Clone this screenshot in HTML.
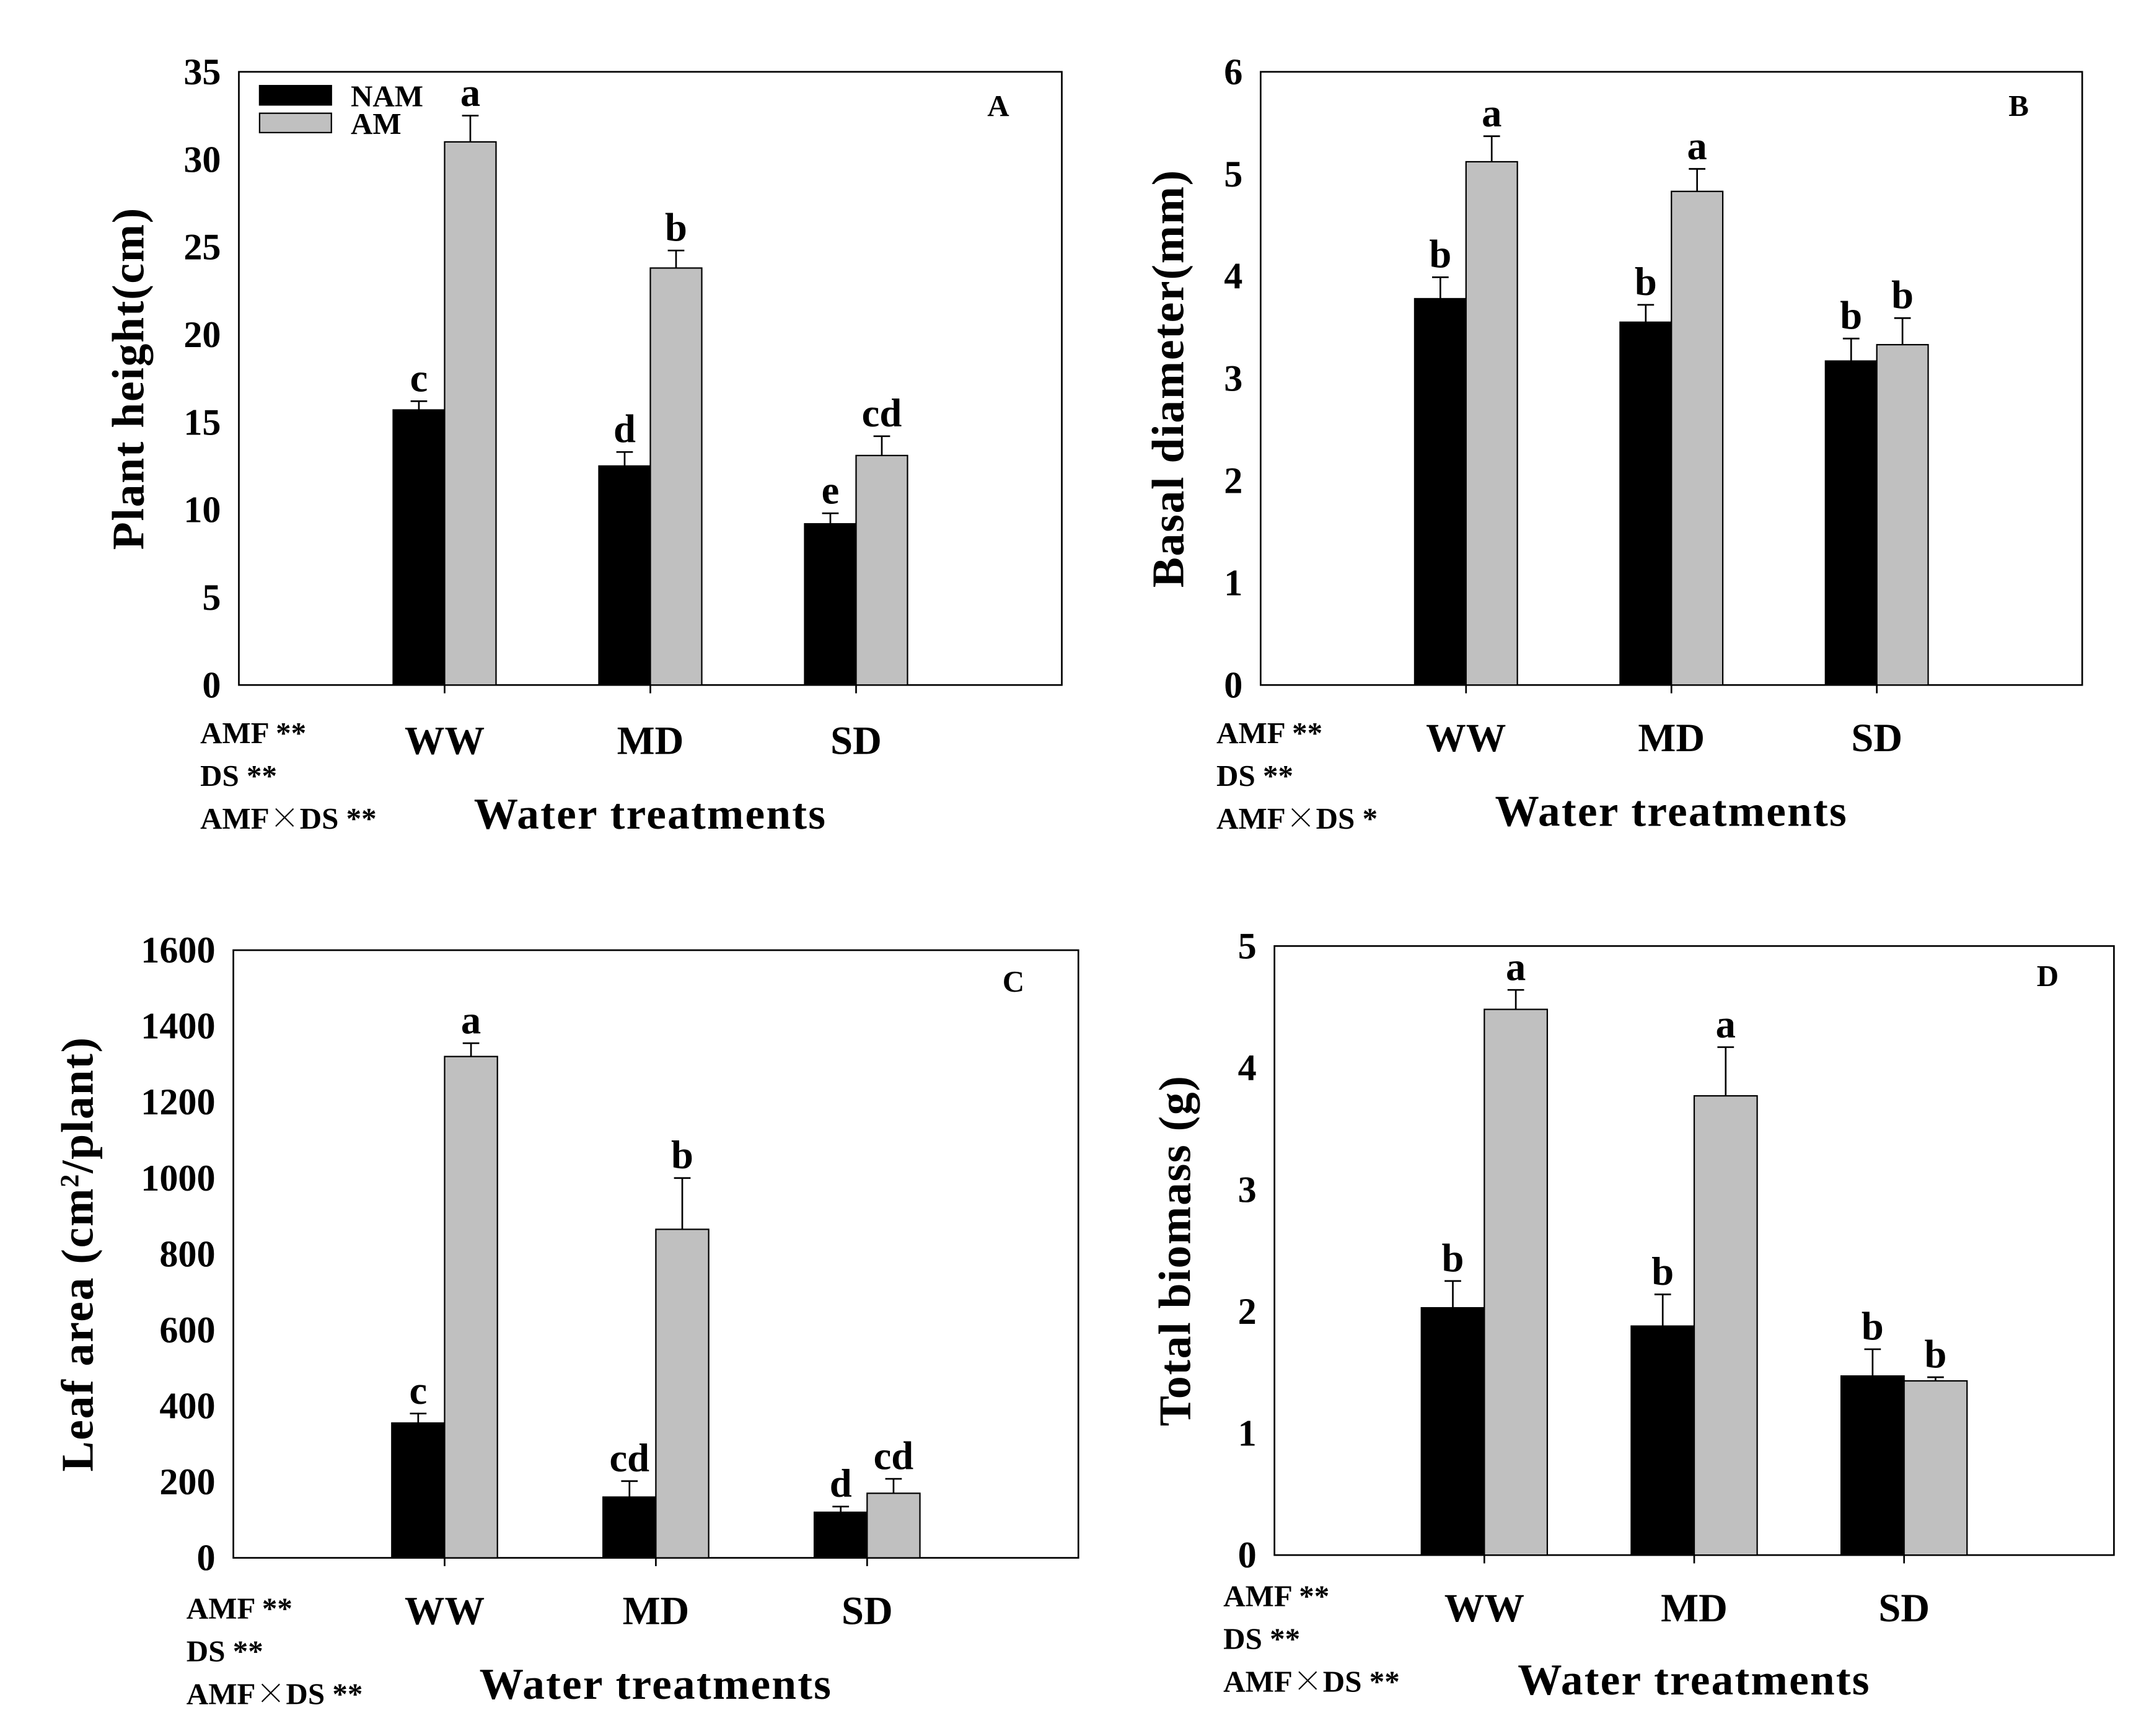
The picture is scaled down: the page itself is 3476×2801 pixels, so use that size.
<!DOCTYPE html>
<html><head><meta charset="utf-8"><style>
html,body{margin:0;padding:0;background:#fff;}
svg{display:block;}
text{font-family:"Liberation Serif","Noto Serif CJK SC",serif;font-weight:bold;fill:#000;}
</style></head><body>
<svg id="fig" xmlns="http://www.w3.org/2000/svg" width="3476" height="2801" viewBox="0 0 1560 1257" preserveAspectRatio="none"></svg>
<script>
const categories = ["WW","MD","SD"];
const aNam = [15.7, 12.5, 9.2];
const aNamErr = [0.5, 0.8, 0.6];
const aAm = [31.0, 23.8, 13.1];
const aAmErr = [1.5, 1.0, 1.1];
const aNamLetters = ["c","d","e"];
const aAmLetters = ["a","b","cd"];
const aTicks = [0,5,10,15,20,25,30,35];

const bNam = [3.78, 3.55, 3.17];
const bNamErr = [0.21, 0.17, 0.22];
const bAm = [5.12, 4.83, 3.33];
const bAmErr = [0.25, 0.22, 0.26];
const bNamLetters = ["b","b","b"];
const bAmLetters = ["a","a","b"];
const bTicks = [0,1,2,3,4,5,6];

const cNam = [355, 160, 120];
const cNamErr = [25, 42, 15];
const cAm = [1320, 865, 170];
const cAmErr = [35, 135, 38];
const cNamLetters = ["c","cd","d"];
const cAmLetters = ["a","b","cd"];
const cTicks = [0,200,400,600,800,1000,1200,1400,1600];

const dNam = [2.03, 1.88, 1.47];
const dNamErr = [0.22, 0.26, 0.22];
const dAm = [4.48, 3.77, 1.43];
const dAmErr = [0.16, 0.40, 0.03];
const dNamLetters = ["b","b","b"];
const dAmLetters = ["a","a","b"];
const dTicks = [0,1,2,3,4,5];

const NS = "http://www.w3.org/2000/svg";
const svg = document.getElementById("fig");
function mk(tag, attrs, parent, txt){
  const e = document.createElementNS(NS, tag);
  for (const k in attrs) e.setAttribute(k, attrs[k]);
  if (txt !== undefined) e.textContent = txt;
  (parent||svg).appendChild(e);
  return e;
}

function panel(p){
  const g = mk("g", {});
  
  
  const ymax = p.ticks[p.ticks.length-1];
  const xs = v => p.x0 + (p.x1 - p.x0) * v / 4;
  const ys = v => p.y1 - (p.y1 - p.y0) * v / ymax;
  const fr = mk("rect", {x:p.x0, y:p.y0, width:p.x1-p.x0, height:p.y1-p.y0, fill:"none", stroke:"#000", "stroke-width":1.2}, g);
  
  
  p.ticks.forEach(t => {
    const tl = mk("text", {x:p.x0-13, y:ys(t)+9, "text-anchor":"end", "font-size":27}, g, String(t));
    
    
  });
  const bw = p.bw;
  categories.forEach((c, i) => {
    const cx = xs(i+1);
    const tk = mk("line", {x1:cx, x2:cx, y1:p.y1, y2:p.y1+6, stroke:"#000", "stroke-width":1.2}, g);
    
    
    const cl = mk("text", {x:cx, y:p.catY, "text-anchor":"middle", "font-size":29}, g, c);
    
    
    const series = [
      {v:p.nam[i], e:p.namErr[i], l:p.namL[i], x:cx-bw*(p.x1-p.x0)/4, fill:"#000", n:"nam"},
      {v:p.am[i], e:p.amErr[i], l:p.amL[i], x:cx, fill:"#c0c0c0", n:"am"}
    ];
    series.forEach(s => {
      const w = bw*(p.x1-p.x0)/4;
      const r = mk("rect", {x:s.x, y:ys(s.v), width:w, height:p.y1-ys(s.v), fill:s.fill, stroke:"#000", "stroke-width":1}, g);
      
      
      const mx = s.x + w/2;
      const et = ys(s.v + s.e);
      const el = mk("path", {d:`M${mx},${ys(s.v)}V${et}M${mx-6},${et}H${mx+6}`, stroke:"#000", "stroke-width":1.2, fill:"none"}, g);
      
      
      const lt = mk("text", {x:mx, y:et-7, "text-anchor":"middle", "font-size":29}, g, s.l);
      
      
    });
  });
  const pl = mk("text", {x:p.lx, y:p.ly, "text-anchor":"middle", "font-size":22}, g, p.id);
  
  
  const yt = mk("text", {x:0, y:0, transform:`translate(${p.ytx},${(p.y0+p.y1)/2}) rotate(-90)`, "text-anchor":"middle", "font-size":33, "letter-spacing":"0.8"}, g);
  
  
  if (p.ytitleSup){
    yt.appendChild(document.createTextNode("Leaf area (cm"));
    mk("tspan", {"baseline-shift":"super", "font-size":19}, yt, "2");
    yt.appendChild(document.createTextNode("/plant)"));
  } else yt.textContent = p.ytitle;
  const a1 = mk("text", {x:p.ax, y:p.ay, "font-size":22}, g, "AMF **");
  
  
  const a2 = mk("text", {x:p.ax, y:p.ay + 31, "font-size":22}, g, "DS **");
  
  
  const a3 = mk("text", {x:p.ax, y:p.ay + 62, "font-size":22}, g);
  
  
  a3.appendChild(document.createTextNode("AMF"));
  mk("tspan", {"font-family":"Noto Serif CJK SC, serif", "font-weight":"normal"}, a3, "×");
  a3.appendChild(document.createTextNode("DS " + p.a3));
  const xt = mk("text", {x:xs(2), y:p.xtY, "text-anchor":"middle", "font-size":32, "letter-spacing":"1"}, g, "Water treatments");
  
  
  return g;
}

const gA = panel({id:"A", x0:173, x1:769, y0:52, y1:496, ticks:aTicks, bw:0.25, nam:aNam, namErr:aNamErr, am:aAm, amErr:aAmErr, namL:aNamLetters, amL:aAmLetters, catY:546, lx:723, ly:84, ytitle:"Plant height(cm)", ytx:104, a3:"**", ax:145, ay:538, xtY:600});
const gB = panel({id:"B", x0:913, x1:1508, y0:52, y1:496, ticks:bTicks, bw:0.25, nam:bNam, namErr:bNamErr, am:bAm, amErr:bAmErr, namL:bNamLetters, amL:bAmLetters, catY:544, lx:1462, ly:84, ytitle:"Basal diameter(mm)", ytx:857, a3:"*", ax:881, ay:538, xtY:598});
const gC = panel({id:"C", x0:169, x1:781, y0:688, y1:1128, ticks:cTicks, bw:0.25, nam:cNam, namErr:cNamErr, am:cAm, amErr:cAmErr, namL:cNamLetters, amL:cAmLetters, catY:1176, lx:734, ly:718, ytitle:"", ytitleSup:true, ytx:67, a3:"**", ax:135, ay:1172, xtY:1230});
const gD = panel({id:"D", x0:923, x1:1531, y0:685, y1:1126, ticks:dTicks, bw:0.3, nam:dNam, namErr:dNamErr, am:dAm, amErr:dAmErr, namL:dNamLetters, amL:dAmLetters, catY:1174, lx:1483, ly:714, ytitle:"Total biomass (g)", ytx:862, a3:"**", ax:886, ay:1163, xtY:1227});

const lg = mk("g", {});


const l1 = mk("rect", {x:188, y:62, width:52, height:14, fill:"#000", stroke:"#000"}, lg);


const l2 = mk("rect", {x:188, y:82, width:52, height:14, fill:"#c0c0c0", stroke:"#000"}, lg);


const t1 = mk("text", {x:254, y:77, "font-size":22}, lg, "NAM");


const t2 = mk("text", {x:254, y:97, "font-size":22}, lg, "AM");


</script>
</body></html>
